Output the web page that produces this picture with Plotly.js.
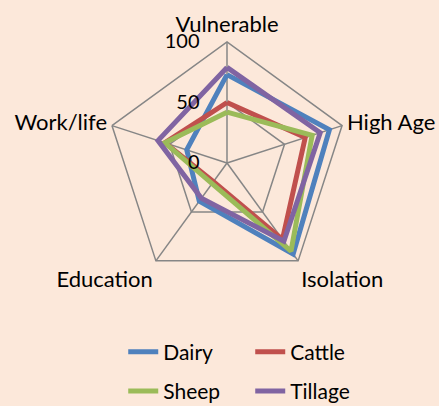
<!DOCTYPE html>
<html>
<head>
<meta charset="utf-8">
<script src="https://cdn.plot.ly/plotly-3.0.1.min.js"></script>
<style>
  html, body { margin: 0; padding: 0; background: #fce8da; }
  #myPlot { width: 439px; height: 406px; }
</style>
</head>
<body>
<div id="myPlot"></div>
<script>
// axes of the radar, clockwise from the top
var categories = ["Vulnerable", "High Age", "Isolation", "Education", "Work/life"];

// values (0 - 100)
var dairy   = [73, 89, 93, 39, 35];
var cattle  = [50, 68, 78, 19, 54];
var sheep   = [42, 74, 90, 21, 54];
var tillage = [79, 81, 80, 36, 60];

var seriesNames  = ["Dairy", "Cattle", "Sheep", "Tillage"];
var seriesValues = [dairy, cattle, sheep, tillage];
var seriesColors = ["#4f81bd", "#c0504d", "#9bbb59", "#8064a2"];
var legendOf     = ["legend", "legend", "legend2", "legend2"];

var radialTicks = [0, 50, 100];

var fontName = "Lato, 'Open Sans', sans-serif";

// close the polygon by repeating the first point
function closed(arr) {
  return arr.concat([arr[0]]);
}

var data = [];
for (var i = 0; i < seriesNames.length; i++) {
  data.push({
    type: "scatterpolar",
    r: closed(seriesValues[i]),
    theta: closed(categories),
    name: seriesNames[i],
    mode: "lines",
    line: { color: seriesColors[i], width: 5 },
    legend: legendOf[i],
    hoverinfo: "skip"
  });
}

var legendBase = {
  orientation: "h",
  x: 0.57, xanchor: "center",
  yanchor: "middle",
  bgcolor: "rgba(0,0,0,0)",
  font: { family: fontName, size: 21 },
  entrywidth: 82,
  entrywidthmode: "pixels"
};

var layout = {
  width: 439,
  height: 406,
  paper_bgcolor: "#fce8da",
  plot_bgcolor: "#fce8da",
  margin: { l: 0, r: 0, t: 0, b: 0, autoexpand: false },
  font: { family: fontName, size: 22, color: "#000000" },
  polar: {
    bgcolor: "rgba(0,0,0,0)",
    gridshape: "linear",
    domain: { x: [0.2415, 0.7927], y: [0.3005, 0.8966] },
    angularaxis: {
      direction: "clockwise",
      rotation: 90,
      showline: true,
      linecolor: "#868686",
      linewidth: 1.5,
      gridcolor: "#868686",
      gridwidth: 1.5,
      ticks: "",
      tickfont: { family: fontName, size: 22 }
    },
    radialaxis: {
      range: [0, 100],
      tickvals: radialTicks,
      ticktext: radialTicks.map(String),
      angle: 90,
      tickangle: 90,
      side: "counterclockwise",
      showline: false,
      gridcolor: "#868686",
      gridwidth: 1.5,
      ticks: "outside",
      ticklen: 20,
      tickcolor: "rgba(0,0,0,0)",
      tickfont: { family: fontName, size: 20 }
    }
  },
  legend: Object.assign({}, legendBase, { y: 0.133 }),
  legend2: Object.assign({}, legendBase, { y: 0.036 }),
  showlegend: true
};

Plotly.newPlot("myPlot", data, layout, { displayModeBar: false, staticPlot: true });
</script>
</body>
</html>
